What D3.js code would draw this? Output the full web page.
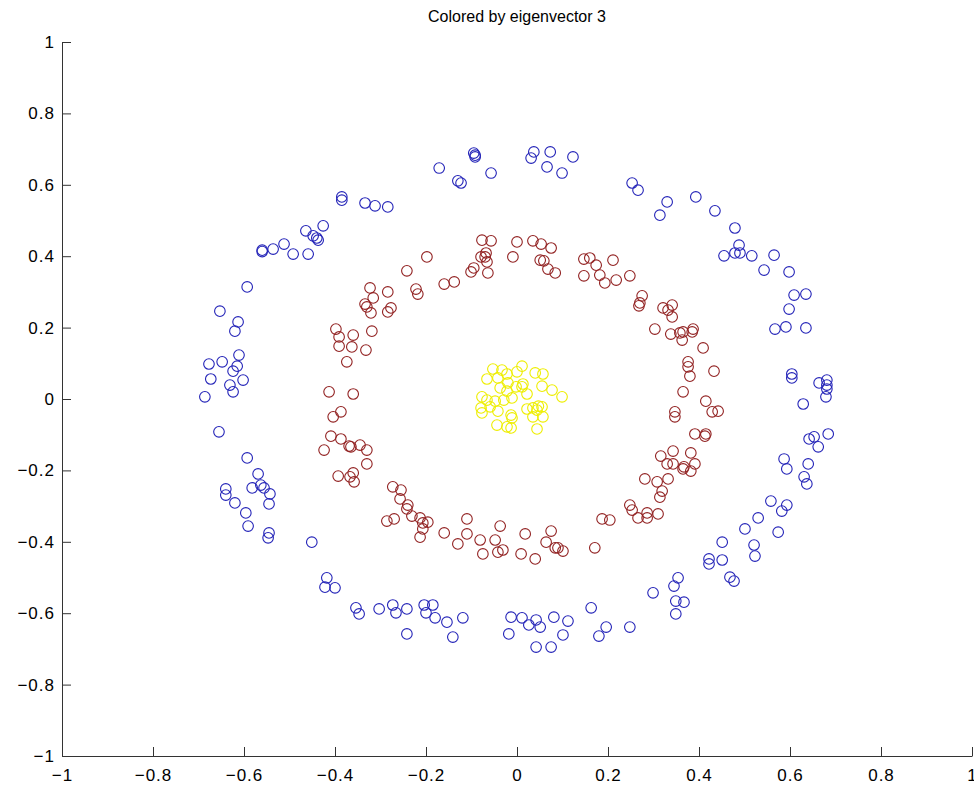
<!DOCTYPE html>
<html>
<head>
<meta charset="utf-8">
<script src="https://cdn.jsdelivr.net/npm/d3@7"></script>
<style>
  html, body { margin: 0; padding: 0; background: #fff; }
  text { font-family: "Liberation Sans", Arial, sans-serif; }
</style>
</head>
<body>
<div class="d3-container"></div>
<script>
const title = "Colored by eigenvector 3";

const xTicks = [-1, -0.8, -0.6, -0.4, -0.2, 0, 0.2, 0.4, 0.6, 0.8, 1];
const yTicks = [-1, -0.8, -0.6, -0.4, -0.2, 0, 0.2, 0.4, 0.6, 0.8, 1];
const tickLabels = ["\u22121", "\u22120.8", "\u22120.6", "\u22120.4", "\u22120.2", "0", "0.2", "0.4", "0.6", "0.8", "1"];

// outer ring
const blue = [
  [-0.385, 0.566], [-0.385, 0.557], [-0.334, 0.549], [-0.312, 0.541], [-0.284, 0.538],
  [-0.426, 0.485], [-0.464, 0.471], [-0.448, 0.457], [-0.440, 0.451], [-0.437, 0.445],
  [-0.512, 0.434], [-0.560, 0.417], [-0.560, 0.413], [-0.536, 0.420], [-0.492, 0.406],
  [-0.459, 0.406], [-0.593, 0.314], [-0.653, 0.246], [-0.613, 0.216], [-0.620, 0.190],
  [-0.095, 0.689], [-0.092, 0.683], [-0.092, 0.678], [-0.171, 0.647], [-0.130, 0.611],
  [-0.123, 0.605], [-0.057, 0.633], [0.037, 0.692], [0.031, 0.675], [0.073, 0.692],
  [0.123, 0.678], [0.066, 0.650], [0.099, 0.633],
  [0.253, 0.605], [0.266, 0.585], [0.330, 0.552], [0.314, 0.515], [0.393, 0.566],
  [0.435, 0.527], [0.479, 0.479], [0.488, 0.431], [0.479, 0.409], [0.490, 0.409],
  [0.455, 0.401], [0.516, 0.401], [0.565, 0.403], [0.543, 0.361], [0.598, 0.356],
  [0.609, 0.291], [0.635, 0.294], [0.598, 0.252], [0.567, 0.196], [0.591, 0.202],
  [0.635, 0.199],
  [-0.611, 0.123], [-0.677, 0.098], [-0.648, 0.104], [-0.615, 0.092], [-0.624, 0.078],
  [-0.673, 0.056], [-0.602, 0.053], [-0.631, 0.039], [-0.624, 0.020], [-0.686, 0.006],
  [-0.655, -0.092], [-0.593, -0.165], [-0.569, -0.210], [-0.640, -0.252], [-0.640, -0.269],
  [-0.582, -0.249], [-0.563, -0.241], [-0.556, -0.249], [-0.543, -0.266], [-0.620, -0.291],
  [-0.545, -0.294], [-0.596, -0.319], [-0.591, -0.356], [-0.545, -0.375], [-0.547, -0.389],
  [-0.451, -0.401], [-0.418, -0.501], [-0.422, -0.527], [-0.400, -0.529], [-0.354, -0.585],
  [-0.347, -0.602], [-0.303, -0.588], [-0.273, -0.577], [-0.266, -0.599], [-0.242, -0.588],
  [-0.242, -0.658], [-0.204, -0.577], [-0.185, -0.577], [-0.200, -0.599], [-0.180, -0.613],
  [-0.154, -0.625], [-0.119, -0.613], [-0.141, -0.667], [-0.013, -0.611], [0.011, -0.613],
  [0.042, -0.619], [0.026, -0.633], [0.051, -0.639], [0.081, -0.611], [0.112, -0.622],
  [-0.018, -0.658], [0.101, -0.661], [0.042, -0.695], [0.075, -0.695], [0.163, -0.585],
  [0.196, -0.639], [0.180, -0.664],
  [0.530, -0.333], [0.501, -0.364], [0.574, -0.373], [0.451, -0.401], [0.521, -0.409],
  [0.523, -0.440], [0.422, -0.448], [0.422, -0.462], [0.451, -0.451], [0.468, -0.499],
  [0.477, -0.510], [0.354, -0.501], [0.345, -0.524], [0.299, -0.543], [0.349, -0.566],
  [0.367, -0.569], [0.349, -0.602], [0.248, -0.639],
  [0.604, 0.070], [0.604, 0.059], [0.664, 0.045], [0.681, 0.053], [0.681, 0.039],
  [0.681, 0.028], [0.679, 0.006], [0.629, -0.014], [0.684, -0.098], [0.642, -0.112],
  [0.653, -0.106], [0.662, -0.134], [0.587, -0.168], [0.593, -0.196], [0.640, -0.182],
  [0.631, -0.218], [0.637, -0.238], [0.558, -0.286], [0.593, -0.297], [0.582, -0.314]
];

// middle ring
const red = [
  [-0.242, 0.359], [-0.323, 0.311], [-0.284, 0.300], [-0.316, 0.283], [-0.334, 0.266],
  [-0.330, 0.258], [-0.321, 0.241], [-0.277, 0.255], [-0.284, 0.244], [-0.398, 0.196],
  [-0.391, 0.174], [-0.360, 0.179], [-0.319, 0.190], [-0.391, 0.148], [-0.363, 0.146],
  [-0.332, 0.137], [-0.374, 0.104], [-0.413, 0.020], [-0.360, 0.014], [-0.387, -0.036],
  [-0.404, -0.050], [-0.409, -0.104], [-0.387, -0.112], [-0.424, -0.143], [-0.369, -0.132],
  [-0.365, -0.134], [-0.345, -0.129], [-0.330, -0.143], [-0.330, -0.182], [-0.393, -0.216],
  [-0.360, -0.207], [-0.367, -0.218], [-0.358, -0.232], [-0.273, -0.246], [-0.255, -0.255],
  [-0.257, -0.280], [-0.240, -0.297], [-0.286, -0.342], [-0.270, -0.336], [-0.242, -0.308],
  [-0.231, -0.328], [-0.213, -0.333], [-0.207, -0.347], [-0.196, -0.345], [-0.207, -0.364],
  [-0.213, -0.387], [-0.160, -0.375], [-0.110, -0.336], [-0.110, -0.378], [-0.130, -0.406],
  [-0.081, -0.395], [-0.048, -0.395], [-0.037, -0.356], [-0.075, -0.434], [-0.042, -0.429],
  [-0.031, -0.423], [0.018, -0.378], [0.009, -0.434], [0.040, -0.448], [0.075, -0.370],
  [0.064, -0.401], [0.084, -0.417], [0.090, -0.417], [0.101, -0.426], [0.171, -0.417],
  [0.187, -0.336], [0.204, -0.339], [0.248, -0.297], [0.253, -0.311], [0.266, -0.333],
  [0.286, -0.319], [0.286, -0.333], [0.310, -0.322], [0.319, -0.258], [0.314, -0.275],
  [0.281, -0.224], [0.308, -0.232], [0.332, -0.224], [0.330, -0.182], [0.343, -0.182],
  [0.365, -0.196], [0.367, -0.190], [0.391, -0.182], [0.382, -0.202], [0.316, -0.160],
  [0.343, -0.146], [0.382, -0.151], [0.391, -0.098], [0.413, -0.104], [0.415, -0.098],
  [0.347, -0.036], [0.347, -0.050], [0.429, -0.036], [0.442, -0.034], [0.415, -0.006],
  [0.365, 0.020], [0.380, 0.064], [0.376, 0.090], [0.376, 0.104], [0.433, 0.078],
  [0.409, 0.143], [0.363, 0.165], [0.358, 0.185], [0.365, 0.188], [0.385, 0.188],
  [0.387, 0.196], [0.338, 0.182], [0.303, 0.196], [0.321, 0.255], [0.332, 0.249],
  [0.341, 0.263], [0.341, 0.230], [0.275, 0.289], [0.270, 0.269], [0.268, 0.261],
  [0.248, 0.345], [0.218, 0.333], [0.211, 0.389], [-0.077, 0.445], [-0.057, 0.443],
  [0.000, 0.440], [0.035, 0.443], [0.053, 0.434], [0.075, 0.423], [-0.198, 0.398],
  [-0.068, 0.409], [-0.079, 0.398], [-0.070, 0.398], [-0.066, 0.384], [-0.009, 0.398],
  [0.051, 0.389], [0.059, 0.387], [0.068, 0.364], [0.084, 0.353], [-0.095, 0.367],
  [-0.101, 0.356], [-0.064, 0.353], [-0.138, 0.328], [-0.160, 0.322], [-0.222, 0.308],
  [-0.218, 0.294], [0.147, 0.392], [0.160, 0.395], [0.174, 0.375], [0.147, 0.345],
  [0.182, 0.347], [0.193, 0.325]
];

// inner cluster
const yellow = [
  [-0.053, 0.084], [-0.033, 0.081], [0.011, 0.092], [0.000, 0.076], [-0.022, 0.070],
  [0.040, 0.073], [0.057, 0.070], [-0.066, 0.056], [-0.042, 0.059], [-0.020, 0.045],
  [0.013, 0.042], [0.011, 0.034], [-0.002, 0.034], [-0.037, 0.031], [-0.022, 0.022],
  [0.055, 0.036], [0.077, 0.025], [0.099, 0.006], [0.022, 0.014], [-0.077, 0.006],
  [-0.066, -0.003], [-0.011, 0.003], [-0.029, -0.003], [-0.048, -0.006], [-0.079, -0.025],
  [-0.059, -0.022], [-0.077, -0.039], [-0.042, -0.034], [0.022, -0.028], [0.035, -0.025],
  [0.044, -0.031], [0.055, -0.022], [0.047, -0.020], [0.035, -0.050], [0.057, -0.050],
  [-0.013, -0.045], [-0.011, -0.053], [-0.044, -0.073], [-0.022, -0.078], [-0.013, -0.081],
  [0.044, -0.084]
];

const width = 974;
const height = 788;
const margin = {top: 42, right: 2, bottom: 32, left: 62};

const svg = d3.select(".d3-container")
  .append("svg")
  .attr("width", width)
  .attr("height", height);

const x = d3.scaleLinear()
  .domain([-1, 1])
  .range([margin.left, width - margin.right]);

const y = d3.scaleLinear()
  .domain([-1, 1])
  .range([height - margin.bottom, margin.top]);

function drawRing(points, color) {
  svg.append("g")
    .attr("fill", "none")
    .attr("stroke", color)
    .attr("stroke-width", 1.1)
    .selectAll("circle")
    .data(points)
    .join("circle")
    .attr("cx", d => x(d[0]))
    .attr("cy", d => y(d[1]))
    .attr("r", 5.3);
}

drawRing(blue, "#2424b8");
drawRing(red, "#922222");
drawRing(yellow, "#eeee00");

function xAxis(g) {
  g.attr("transform", `translate(0, ${y(-1)})`)
    .call(d3.axisBottom(x).tickValues(xTicks).tickFormat((d, i) => tickLabels[i])
      .tickSizeInner(-9).tickSizeOuter(0).tickPadding(13));
}

function yAxis(g) {
  g.attr("transform", `translate(${x(-1)}, 0)`)
    .call(d3.axisLeft(y).tickValues(yTicks).tickFormat((d, i) => tickLabels[i])
      .tickSizeInner(-9).tickSizeOuter(0).tickPadding(7));
}

svg.append("g").call(xAxis);
svg.append("g").call(yAxis);

svg.selectAll(".domain, .tick line").attr("stroke", "#333");
svg.selectAll(".tick text")
  .attr("font-size", 17)
  .attr("letter-spacing", 1)
  .attr("fill", "#000")
  .style("font-family", "'Liberation Sans', Arial, sans-serif");

svg.append("text")
  .attr("x", x(0))
  .attr("y", 22)
  .attr("text-anchor", "middle")
  .attr("font-size", 16)
  .attr("fill", "#000")
  .text(title);
</script>
</body>
</html>
